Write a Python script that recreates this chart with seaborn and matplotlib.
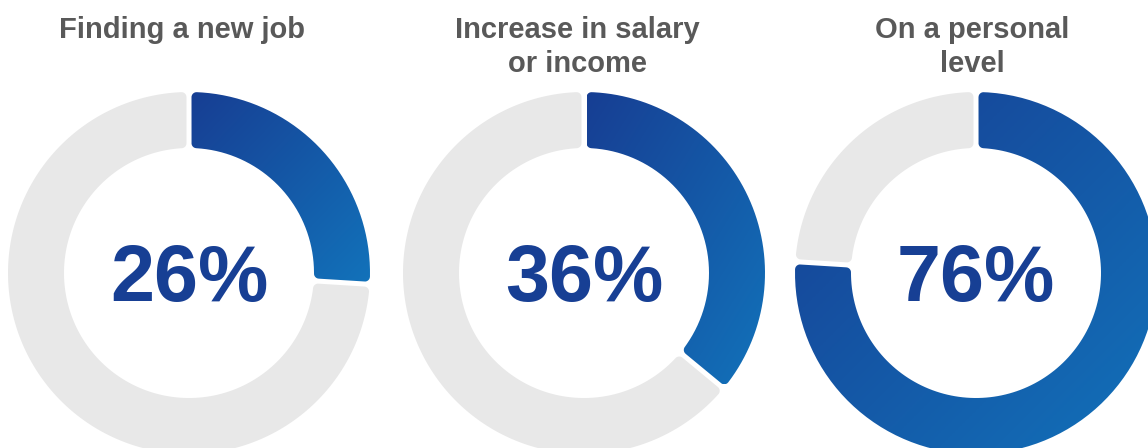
import numpy as np
import matplotlib
matplotlib.use("Agg")
import matplotlib.pyplot as plt
import seaborn as sns
from matplotlib.path import Path
from matplotlib.patches import PathPatch
from matplotlib.colors import LinearSegmentedColormap

# Chart content
titles = [["Finding a new job"], ["Increase in salary", "or income"], ["On a personal", "level"]]
shares = [26, 36, 76]
labels = ["26%", "36%", "76%"]

# Layout (pixel space, y grows downward)
W, H = 1148, 448
centers_x = [189, 584, 976]
title_x = [182, 577, 972]
CY = 273
R_OUT, R_IN = 181, 125
GAP = 5
CORNER = 5

GRAY = "#E8E8E8"
TITLE_COLOR = "#595959"
VALUE_COLOR = "#173F94"
blue_cmap = LinearSegmentedColormap.from_list("ring_blue", ["#173E93", "#1272BA"])

sns.set_theme(style="white")
plt.rcParams["font.family"] = ["Liberation Sans", "DejaVu Sans"]


def arc(cx, cy, r, a0, a1, n=60):
    a = np.radians(np.linspace(a0, a1, n))
    return np.column_stack([cx + r * np.cos(a), cy + r * np.sin(a)])


def rounded_sector(lo, hi):
    """Outline of an annular sector (CCW degrees, y-up) with a gap and rounded corners."""
    d = GAP / 2 + CORNER
    ro, ri = R_OUT - CORNER, R_IN + CORNER
    po = np.sqrt(ro ** 2 - d ** 2)
    pi_ = np.sqrt(ri ** 2 - d ** 2)
    do = np.degrees(np.arctan2(d, po))
    di = np.degrees(np.arctan2(d, pi_))
    a_olo, a_ohi = lo + do, hi - do
    a_ilo, a_ihi = lo + di, hi - di

    def pt(r, a):
        return np.array([r * np.cos(np.radians(a)), r * np.sin(np.radians(a))])

    v_ohi, v_ihi = pt(ro, a_ohi), pt(ri, a_ihi)
    v_olo, v_ilo = pt(ro, a_olo), pt(ri, a_ilo)
    parts = [
        arc(0, 0, R_OUT, a_olo, a_ohi, 200),
        arc(*v_ohi, CORNER, a_ohi, hi + 90, 12),
        arc(*v_ihi, CORNER, hi + 90, a_ihi + 180, 12),
        arc(0, 0, R_IN, a_ihi, a_ilo, 150),
        arc(*v_ilo, CORNER, a_ilo + 180, lo + 270, 12),
        arc(*v_olo, CORNER, lo - 90, a_olo, 12),
    ]
    return np.vstack(parts)


def to_pixels(pts, cx):
    return np.column_stack([cx + pts[:, 0], CY - pts[:, 1]])


fig = plt.figure(figsize=(W / 100, H / 100), dpi=100)
ax = fig.add_axes([0, 0, 1, 1])

for cx, tx, share, label, title in zip(centers_x, title_x, shares, labels, titles):
    split = 90 - 360 * share / 100
    # remaining share in light gray
    gray = to_pixels(rounded_sector(-270, split), cx)
    ax.add_patch(PathPatch(Path(gray, closed=False), facecolor=GRAY, edgecolor="none"))

    # highlighted share with diagonal blue gradient
    blue = to_pixels(rounded_sector(split, 90), cx)
    patch = PathPatch(Path(blue), facecolor="none", edgecolor="none")
    ax.add_patch(patch)
    x0, x1 = blue[:, 0].min(), blue[:, 0].max()
    y0, y1 = blue[:, 1].min(), blue[:, 1].max()
    gx, gy = np.meshgrid(np.linspace(0, 1, 256), np.linspace(0, 1, 256))
    grad = (gx + gy) / 2
    im = ax.imshow(grad, cmap=blue_cmap, extent=(x0, x1, y1, y0), origin="upper",
                   aspect="auto", interpolation="bilinear", vmin=0, vmax=1)
    im.set_clip_path(patch)

    ax.text(cx, 301, label, ha="center", va="baseline", fontsize=57,
            fontweight="bold", color=VALUE_COLOR)
    for i, line in enumerate(title):
        ax.text(tx, 38 + 34 * i, line, ha="center", va="baseline", fontsize=21,
                fontweight="bold", color=TITLE_COLOR)

ax.set_xlim(0, W)
ax.set_ylim(H, 0)
ax.set_aspect("equal")
ax.axis("off")
fig.savefig("out.png", dpi=100, facecolor="white")
